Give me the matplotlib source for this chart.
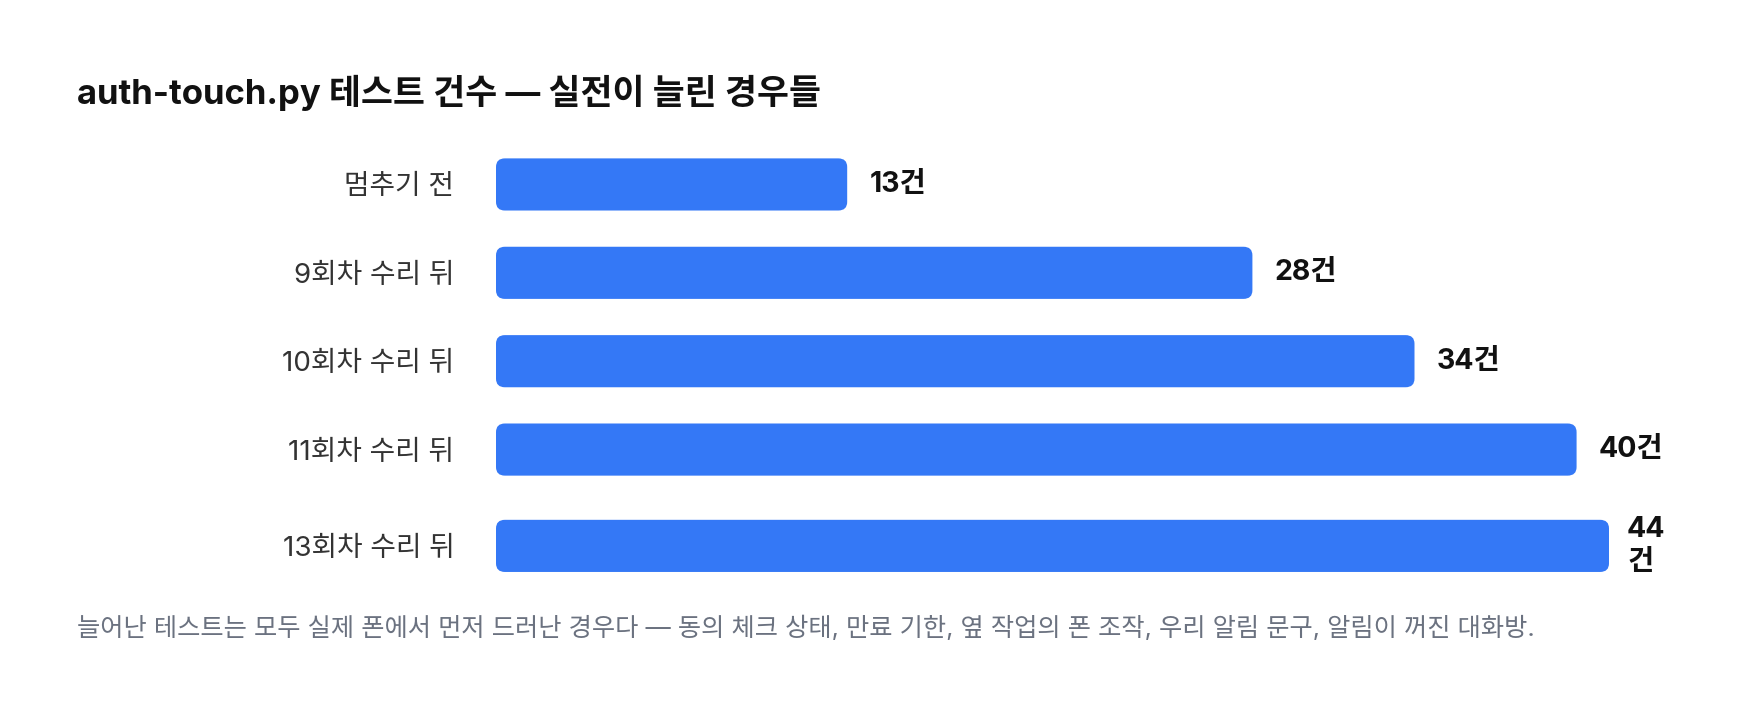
import matplotlib
matplotlib.use("Agg")
import matplotlib.pyplot as plt
from matplotlib.patches import FancyBboxPatch
import numpy as np

plt.rcParams['font.family'] = ['Inter', 'Noto Sans CJK KR', 'DejaVu Sans']

# data
categories = ['멈추기 전', '9회차 수리 뒤', '10회차 수리 뒤', '11회차 수리 뒤', '13회차 수리 뒤']
counts = [13, 28, 34, 40, 44]
unit = '건'

title = 'auth-touch.py 테스트 건수 — 실전이 늘린 경우들'
note = ('늘어난 테스트는 모두 실제 폰에서 먼저 드러난 경우다 — 동의 체크 상태, 만료 기한, '
        '옆 작업의 폰 조작, 우리 알림 문구, 알림이 꺼진 대화방.')

BAR_COLOR = '#3478f6'
XMAX = 41.2          # plot area ends here, longer bars get clipped
BAR_H = 0.59

fig = plt.figure(figsize=(17.6, 7.12), dpi=100)
ax = fig.add_axes([496 / 1760, 0.170, 1113 / 1760, 0.633])

# last row gets a bit more room because its value label wraps
wrapped = [c > XMAX for c in counts]
pos = np.arange(len(counts)) + np.cumsum([0.09 if w else 0 for w in wrapped])

for y, c, w in zip(pos, counts, wrapped):
    width = min(c, XMAX)
    ax.add_patch(FancyBboxPatch((0, y - BAR_H / 2), width, BAR_H,
                                boxstyle='round,pad=0,rounding_size=0.33',
                                mutation_aspect=1 / 0.306 * 0.09,
                                fc=BAR_COLOR, ec='none'))
    label = f'{c}\n{unit}' if w else f'{c}{unit}'
    ax.annotate(label, (width, y), xytext=(13 if w else 16, 0),
                textcoords='offset points',
                ha='left', va='center', fontsize=20.5, fontweight='bold',
                color='#111111', linespacing=1.25)

ax.set_xlim(0, XMAX)
ax.set_ylim(pos[-1] + 0.51, -0.5)
ax.set_yticks(pos, categories)
ax.tick_params(axis='y', length=0, pad=30, labelsize=20, labelcolor='#333333')
ax.set_xticks([])
for s in ax.spines.values():
    s.set_visible(False)

fig.text(77 / 1760, 0.869, title, ha='left', va='center', fontsize=25,
         fontweight='bold', color='#111111')
fig.text(77 / 1760, 0.118, note, ha='left', va='center', fontsize=18.2,
         color='#6b7280')

fig.savefig('out.png', dpi=100, facecolor='white')
